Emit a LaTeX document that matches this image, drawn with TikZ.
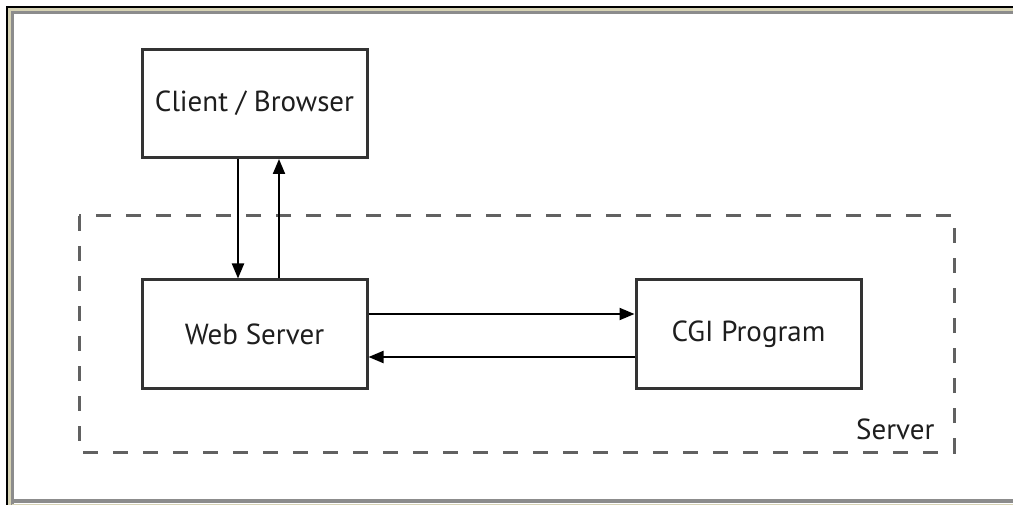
\documentclass[tikz,border=0pt]{standalone}
\usepackage{fontspec}
\setmainfont{PT Sans}
\usetikzlibrary{arrows.meta}
\definecolor{frameBeige}{HTML}{D6D2B4}
\definecolor{frameGray}{HTML}{8C8C8C}
\definecolor{boxLine}{HTML}{333333}
\definecolor{textGray}{HTML}{1E1E1E}
\tikzset{
  label/.style={font=\fontsize{29}{34}\selectfont, text=textGray},
  unitbox/.style={label, draw=boxLine, line width=3pt, fill=white, minimum width=225pt,
    minimum height=108pt, inner sep=0pt},
  flow/.style={line width=2pt, -{Triangle[length=15pt,width=12pt]}},
  serverzone/.style={draw=black!62, line width=3pt, dash pattern=on 15pt off 15pt},
}
\begin{document}
\begin{tikzpicture}[x=1pt,y=-1pt]
  \useasboundingbox (0,0) rectangle (1013,505);
  \fill[white] (0,0) rectangle (1013,505);
  % window frame
  \draw[frameGray, line width=3pt] (12.5,505) -- (12.5,12.5) -- (1013,12.5);
  \draw[frameBeige, line width=3pt] (9.5,505) -- (9.5,9.5) -- (1013,9.5);
  \draw[black, line width=2pt] (7,505) -- (7,7) -- (1013,7);
  \draw[frameGray, line width=3.5pt] (12,501) -- (1013,501);
  \draw[frameBeige, line width=1pt] (12,504) -- (1013,504);

  % server zone
  \draw[serverzone] (79,216) rectangle (954,452);
  \node[label, anchor=base east] (srv) at (938,439) {Server};

  % boxes
  \node[unitbox] (client) at (254.5,103.5) {Client / Browser};
  \node[unitbox] (web) at (254.5,334) {Web Server};
  \node[unitbox] (cgi) at (748.5,334) {CGI Program};

  % request / response
  \draw[flow] (client.south -| 238,0) -- (web.north -| 238,0);
  \draw[flow] (web.north -| 279,0) -- (client.south -| 279,0);
  \draw[flow] (web.east |- 0,314) -- (cgi.west |- 0,314);
  \draw[flow] (cgi.west |- 0,357) -- (web.east |- 0,357);
\end{tikzpicture}
\end{document}
